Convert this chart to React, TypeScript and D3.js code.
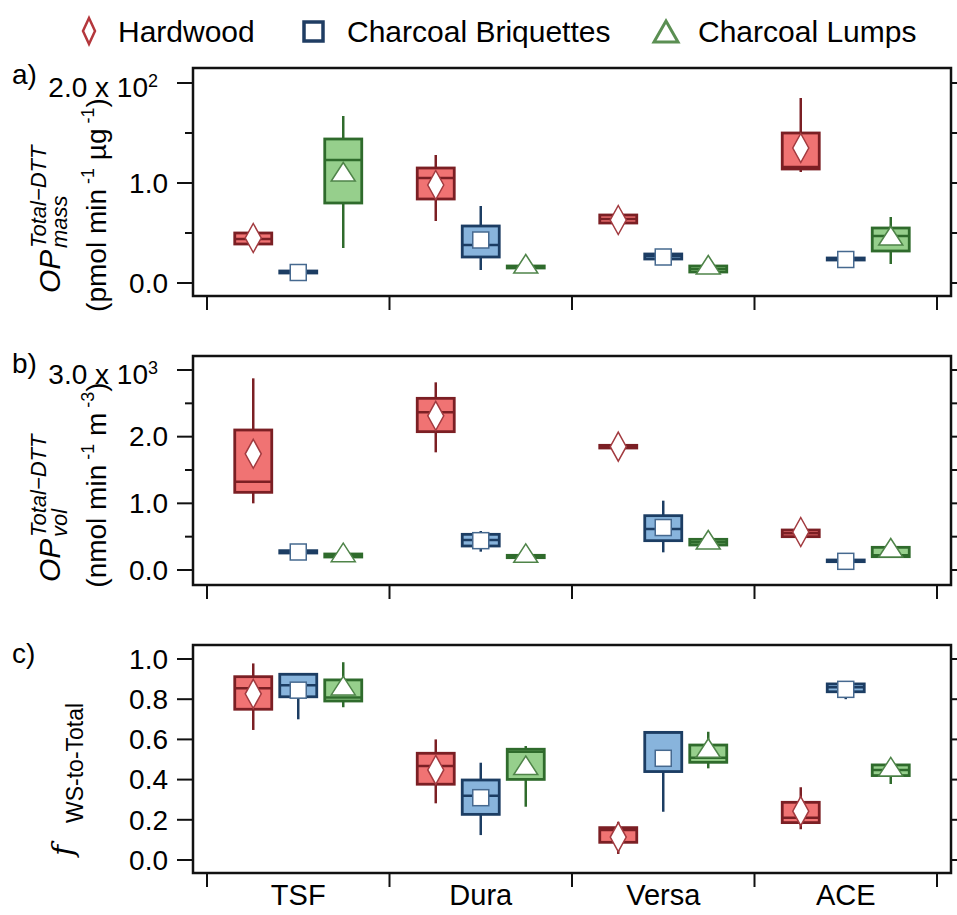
import React from "react";
import * as d3 from "d3";

const categories = ["TSF", "Dura", "Versa", "ACE"];
const fuels = ["Hardwood", "Charcoal Briquettes", "Charcoal Lumps"];

// box stats per category: [whisker low, q1, median, q3, whisker high, mean]
// a) OP mass (pmol min-1 ug-1)
const massHardwood = [
  [39, 39, 44, 50, 50, 45],
  [62, 84, 105, 115, 128, 98],
  [60, 60, 64, 68, 68, 63],
  [111, 114, 116, 150, 185, 135],
];
const massBriquettes = [
  [10, 10, 11, 12, 12, 10.5],
  [13, 26, 38, 57, 77, 43],
  [24, 24, 27, 29, 29, 26],
  [23, 23, 24, 25, 25, 23.5],
];
const massLumps = [
  [35, 80, 123, 144, 167, 111],
  [15, 15, 16, 17, 17, 19],
  [11, 11, 14, 17, 17, 18],
  [19, 32, 47, 55, 66, 47],
];

// b) OP vol (nmol min-1 m-3)
const volHardwood = [
  [1000, 1165, 1325, 2100, 2875, 1743],
  [1765, 2075, 2365, 2575, 2815, 2313],
  [1830, 1830, 1850, 1870, 1870, 1850],
  [500, 500, 550, 600, 600, 570],
];
const volBriquettes = [
  [250, 255, 270, 290, 295, 270],
  [275, 360, 450, 535, 585, 440],
  [265, 440, 615, 815, 1040, 637],
  [120, 125, 140, 150, 155, 130],
];
const volLumps = [
  [190, 195, 215, 240, 245, 260],
  [180, 185, 200, 220, 225, 250],
  [375, 375, 415, 460, 460, 450],
  [200, 200, 220, 340, 340, 330],
];

// c) f WS-to-Total
const fracHardwood = [
  [0.647, 0.75, 0.854, 0.912, 0.978, 0.827],
  [0.282, 0.377, 0.468, 0.531, 0.6, 0.448],
  [0.03, 0.088, 0.149, 0.161, 0.19, 0.114],
  [0.153, 0.186, 0.21, 0.287, 0.362, 0.243],
];
const fracBriquettes = [
  [0.7, 0.812, 0.87, 0.924, 0.93, 0.845],
  [0.124, 0.227, 0.32, 0.398, 0.484, 0.31],
  [0.24, 0.44, 0.635, 0.635, 0.635, 0.506],
  [0.8, 0.837, 0.86, 0.876, 0.876, 0.849],
];
const fracLumps = [
  [0.76, 0.791, 0.808, 0.896, 0.984, 0.866],
  [0.265, 0.401, 0.539, 0.551, 0.567, 0.47],
  [0.456, 0.486, 0.509, 0.572, 0.638, 0.556],
  [0.378, 0.42, 0.448, 0.473, 0.48, 0.463],
];

const FONT = "'Liberation Sans', Arial, sans-serif";
const plotLeft = 193;
const plotRight = 951;

const x = d3.scaleBand().domain(categories).range([207, 937]);
const offset = d3.scalePoint().domain(fuels).range([-45, 45]);
const boxW = 37;

const looks = [
  { fill: "#f07373", stroke: "#7b1f24", marker: "#a23a3f", shape: "diamond" },
  { fill: "#88b4dc", stroke: "#1c3d63", marker: "#46698f", shape: "square" },
  { fill: "#96cf8c", stroke: "#2f6b2c", marker: "#4f8449", shape: "triangle" },
];

const panels = [
  {
    label: "a)", labelY: 84, top: 68, bottom: 296,
    y: d3.scaleLinear().domain([0, 200]).range([283, 83]),
    nMajor: 2, nMinor: 4, div: 100, exp: "2",
    series: [massHardwood, massBriquettes, massLumps],
  },
  {
    label: "b)", labelY: 373, top: 356, bottom: 585,
    y: d3.scaleLinear().domain([0, 3000]).range([570, 370]),
    nMajor: 3, nMinor: 6, div: 1000, exp: "3",
    series: [volHardwood, volBriquettes, volLumps],
  },
  {
    label: "c)", labelY: 663, top: 645, bottom: 873,
    y: d3.scaleLinear().domain([0, 1]).range([860, 659]),
    nMajor: 5, nMinor: 5, div: 1, exp: null,
    series: [fracHardwood, fracBriquettes, fracLumps],
  },
];

const Marker = ({ shape, color }: { shape: string; color: string }) => {
  if (shape === "diamond")
    return <path d="M0,-14.5L8,0L0,14.5L-8,0Z" fill="#fff" stroke={color} strokeWidth={1.5} />;
  if (shape === "square")
    return <rect x={-8} y={-8} width={16} height={16} fill="#fff" stroke={color} strokeWidth={1.5} />;
  return <path d="M0,-9.5L12,9L-12,9Z" fill="#fff" stroke={color} strokeWidth={1.5} />;
};

const OPTitle = ({ bottom, sub, unit, exp, cy }: any) => (
  <g>
    <g transform={`translate(60,${bottom - 3}) rotate(-90)`} fontFamily={FONT}>
      <text x={0} y={0} fontSize={30} fontStyle="italic">OP</text>
      <text x={45} y={-14} fontSize={22} fontStyle="italic">Total−DTT</text>
      <text x={45} y={7} fontSize={22} fontStyle="italic">{sub}</text>
    </g>
    <text transform={`translate(106,${cy}) rotate(-90)`} textAnchor="middle" fontFamily={FONT} fontSize={28}>
      <tspan>(</tspan>
      <tspan>{unit[0]}mol min</tspan>
      <tspan dy={-12} fontSize={18}> -1</tspan>
      <tspan dy={12}>{"  " + unit[1]}</tspan>
      <tspan dy={-12} fontSize={18}>{exp}</tspan>
      <tspan dy={12}>)</tspan>
    </text>
  </g>
);

export default function App() {
  return (
    <svg width={957} height={915} style={{ position: "absolute", left: 0, top: 0, background: "#fff" }}>
      {/* legend */}
      <g fontFamily={FONT} fontSize={30}>
        <path d="M89,18L95,31L89,44L83,31Z" fill="none" stroke="#b4373c" strokeWidth={2.5} />
        <text x={118} y={42}>{fuels[0]}</text>
        <rect x={304} y={22} width={19} height={19} fill="none" stroke="#1f3d63" strokeWidth={3.5} />
        <text x={347} y={42}>{fuels[1]}</text>
        <path d="M666,21L678,42L654,42Z" fill="none" stroke="#5b8f53" strokeWidth={3} />
        <text x={698} y={42}>{fuels[2]}</text>
      </g>

      {panels.map((p, pi) => {
        const majors = p.y.ticks(p.nMajor);
        const minors = p.y.ticks(p.nMinor).filter((t) => !majors.includes(t));
        const top = d3.max(majors)!;
        return (
          <g key={pi}>
            <text x={12} y={p.labelY} fontFamily={FONT} fontSize={28}>{p.label}</text>
            {/* boxes */}
            {p.series.map((ser, si) =>
              ser.map((d, ci) => {
                const [lo, q1, med, q3, hi, mean] = d;
                const cx = x(categories[ci])! + x.bandwidth() / 2 + offset(fuels[si])!;
                const lk = looks[si];
                return (
                  <g key={`${si}-${ci}`}>
                    <line x1={cx} x2={cx} y1={p.y(hi)} y2={p.y(q3)} stroke={lk.stroke} strokeWidth={2.5} />
                    <line x1={cx} x2={cx} y1={p.y(q1)} y2={p.y(lo)} stroke={lk.stroke} strokeWidth={2.5} />
                    <rect
                      x={cx - boxW / 2}
                      y={p.y(q3)}
                      width={boxW}
                      height={Math.max(p.y(q1) - p.y(q3), 0.5)}
                      fill={lk.fill}
                      stroke={lk.stroke}
                      strokeWidth={2.8}
                    />
                    <line x1={cx - boxW / 2} x2={cx + boxW / 2} y1={p.y(med)} y2={p.y(med)} stroke={lk.stroke} strokeWidth={2.5} />
                    <g transform={`translate(${cx},${p.y(mean)})`}>
                      <Marker shape={lk.shape} color={lk.marker} />
                    </g>
                  </g>
                );
              })
            )}
            {/* frame */}
            <rect x={plotLeft} y={p.top} width={plotRight - plotLeft} height={p.bottom - p.top} fill="none" stroke="#111" strokeWidth={2.5} />
            {/* y ticks, left and right */}
            {majors.map((t) => (
              <g key={`M${t}`}>
                <line x1={177} x2={plotLeft} y1={p.y(t)} y2={p.y(t)} stroke="#111" strokeWidth={2} />
                <line x1={plotRight} x2={960} y1={p.y(t)} y2={p.y(t)} stroke="#111" strokeWidth={2} />
                {p.exp && t === top ? (
                  <text x={158} y={p.y(t) + 14} textAnchor="end" fontFamily={FONT} fontSize={28}>
                    <tspan>{(t / p.div).toFixed(1)} x 10</tspan>
                    <tspan dy={-10} fontSize={18}>{p.exp}</tspan>
                  </text>
                ) : (
                  <text x={168} y={p.y(t)} dy="0.35em" textAnchor="end" fontFamily={FONT} fontSize={28}>
                    {(t / p.div).toFixed(1)}
                  </text>
                )}
              </g>
            ))}
            {minors.map((t) => (
              <g key={`m${t}`}>
                <line x1={185} x2={plotLeft} y1={p.y(t)} y2={p.y(t)} stroke="#111" strokeWidth={2} />
                <line x1={plotRight} x2={957} y1={p.y(t)} y2={p.y(t)} stroke="#111" strokeWidth={2} />
              </g>
            ))}
            {/* category ticks */}
            {[...categories.map((c) => x(c)!), x.range()[1]].map((v, i) => (
              <line key={i} x1={v} x2={v} y1={p.bottom} y2={p.bottom + 14} stroke="#111" strokeWidth={2} />
            ))}
          </g>
        );
      })}

      {/* y titles */}
      <OPTitle bottom={panels[0].bottom} sub="mass" unit={["p", "µg"]} exp=" -1" cy={205} />
      <OPTitle bottom={panels[1].bottom} sub="vol" unit={["n", "m"]} exp=" -3" cy={485} />
      <g transform={`translate(73,858) rotate(-90)`}>
        <text x={2} y={0} fontFamily="'DejaVu Serif', 'Liberation Serif', serif" fontStyle="italic" fontSize={30}>f</text>
        <text x={35} y={10} fontFamily={FONT} fontSize={23}>WS-to-Total</text>
      </g>

      {/* category labels */}
      {categories.map((c) => (
        <text key={c} x={x(c)! + x.bandwidth() / 2} y={905} textAnchor="middle" fontFamily={FONT} fontSize={29}>
          {c}
        </text>
      ))}
    </svg>
  );
}
